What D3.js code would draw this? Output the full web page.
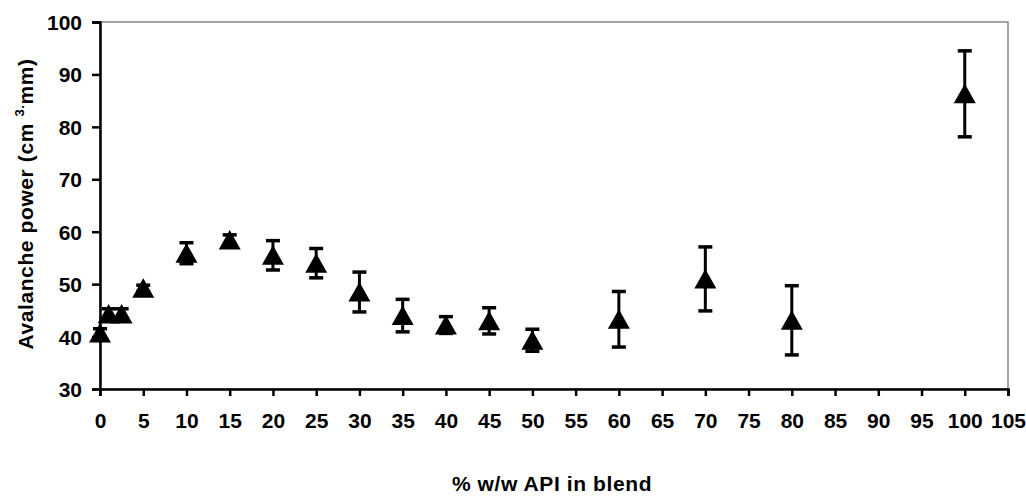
<!DOCTYPE html>
<html>
<head>
<meta charset="utf-8">
<script src="https://cdn.jsdelivr.net/npm/d3@7"></script>
<style>
  body { margin: 0; background: #fff; }
  text { font-family: "Liberation Sans", Arial, sans-serif; font-weight: bold; }
</style>
</head>
<body>
<script>
// % w/w API in blend
var blend = [0, 1, 2.5, 5, 10, 15, 20, 25, 30, 35, 40, 45, 50, 60, 70, 80, 100];
// avalanche power and its error (+/-)
var power = [40.7, 44.3, 44.3, 49.2, 55.9, 58.4, 55.5, 54, 48.5, 44, 42.2, 43, 39.3, 43.3, 51, 43.1, 86.3];
var powerErr = [0.8, 1, 1, 0.6, 2, 1, 2.8, 2.8, 3.8, 3.1, 1.6, 2.5, 2.1, 5.3, 6.1, 6.6, 8.2];
var xTicks = d3.range(0, 106, 5);
var yTicks = [30, 40, 50, 60, 70, 80, 90, 100];

var width = 1026,
    height = 497,
    margin = {top: 22, right: 18, bottom: 108, left: 100};

var x = d3.scaleLinear().domain([0, 105]).range([margin.left, width - margin.right]),
    y = d3.scaleLinear().domain([30, 100]).range([height - margin.bottom, margin.top]);

var svg = d3.select('body').append('svg')
    .attr('width', width)
    .attr('height', height);

// plot area border (gray, shows on top and right)
svg.append('rect')
    .attr('x', x(0))
    .attr('y', y(100))
    .attr('width', x(105) - x(0))
    .attr('height', y(30) - y(100))
    .attr('fill', 'none')
    .attr('stroke', '#888')
    .attr('stroke-width', 1.5);

var axisX = svg.append('g')
    .attr('transform', 'translate(0,' + y(30) + ')')
    .call(d3.axisBottom(x).tickValues(xTicks).tickSize(7).tickPadding(17).tickFormat(d3.format('d')));

var axisY = svg.append('g')
    .attr('transform', 'translate(' + x(0) + ',0)')
    .call(d3.axisLeft(y).tickValues(yTicks).tickSize(8).tickPadding(10));

svg.selectAll('.domain, .tick line')
    .attr('stroke', '#000')
    .attr('stroke-width', 2.5);
svg.selectAll('.tick text')
    .attr('fill', '#000')
    .style('font-size', '21px')
    .style('font-family', '"Liberation Sans", Arial, sans-serif')
    .style('font-weight', 'bold');
axisY.selectAll('.tick text').attr('dy', '0.36em');

// error bars
var pts = blend.map(function (d, i) { return {x: d, y: power[i], e: powerErr[i]}; });

var bars = svg.append('g').attr('class', 'err')
    .selectAll('g')
    .data(pts)
    .enter()
    .append('g');

bars.append('line')
    .attr('x1', function (d) { return x(d.x); })
    .attr('x2', function (d) { return x(d.x); })
    .attr('y1', function (d) { return y(d.y + d.e); })
    .attr('y2', function (d) { return y(d.y - d.e); })
    .attr('stroke', '#000')
    .attr('stroke-width', 3);

[1, -1].forEach(function (s) {
    bars.append('line')
        .attr('x1', function (d) { return x(d.x) - 7; })
        .attr('x2', function (d) { return x(d.x) + 7; })
        .attr('y1', function (d) { return y(d.y + s * d.e); })
        .attr('y2', function (d) { return y(d.y + s * d.e); })
        .attr('stroke', '#000')
        .attr('stroke-width', 3.5);
});

// triangle markers
svg.append('g').attr('class', 'points')
    .selectAll('path')
    .data(pts)
    .enter()
    .append('path')
    .attr('d', function (d) {
        var cx = x(d.x), cy = y(d.y);
        return 'M' + cx + ',' + (cy - 10) + 'L' + (cx + 11) + ',' + (cy + 9.5) + 'L' + (cx - 11) + ',' + (cy + 9.5) + 'Z';
    })
    .attr('fill', '#000');

// axis titles
svg.append('text')
    .attr('x', 552)
    .attr('y', 491)
    .attr('text-anchor', 'middle')
    .style('font-size', '21px')
    .style('letter-spacing', '0.6px')
    .text('% w/w API in blend');

var yt = svg.append('text')
    .attr('transform', 'translate(33,204) rotate(-90)')
    .attr('text-anchor', 'middle')
    .style('font-size', '21px')
    .style('letter-spacing', '0.6px');
yt.append('tspan').text('Avalanche power (cm   ');
yt.append('tspan').attr('dy', -9).style('font-size', '13px').text('3.');
yt.append('tspan').attr('dy', 9).text('mm)');
</script>
</body>
</html>
